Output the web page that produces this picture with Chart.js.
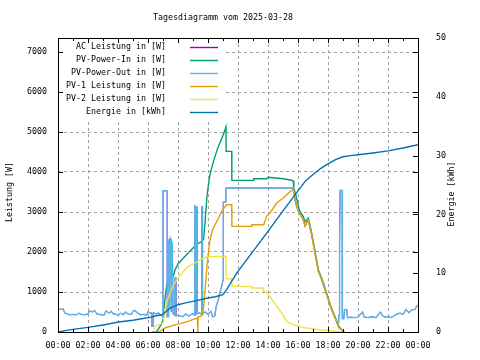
<!DOCTYPE html>
<html>
<head>
<meta charset="utf-8">
<script src="https://cdn.jsdelivr.net/npm/chart.js@4.4.1/dist/chart.umd.min.js"></script>
<style>
  html, body { margin: 0; padding: 0; background: #fff; }
  canvas { display: block; }
</style>
</head>
<body>
<canvas id="chart" width="480" height="360"></canvas>
<script>
/* ── gnuplot-ish defaults ── */
const FONT = 'DejaVu Sans Mono';
Chart.defaults.font.family = FONT;
Chart.defaults.font.size = 8.3;
Chart.defaults.color = '#000';

const TITLE = 'Tagesdiagramm vom 2025-03-28';
const Y_TITLE = 'Leistung [W]';
const Y2_TITLE = 'Energie [kWh]';

const hourTicks = ['00:00','02:00','04:00','06:00','08:00','10:00','12:00',
                   '14:00','16:00','18:00','20:00','22:00','00:00'];
const powerTicks = [0, 1000, 2000, 3000, 4000, 5000, 6000, 7000];
const energyTicks = [0, 10, 20, 30, 40, 50];

const seriesNames = ['AC Leistung in [W]', 'PV-Power-In in [W]', 'PV-Power-Out in [W]',
                     'PV-1 Leistung in [W]', 'PV-2 Leistung in [W]', 'Energie in [kWh]'];
const seriesColors = ['#9400d3', '#009e73', '#56b4e9', '#e69f00', '#f0e442', '#0072b2'];

/* [hour, W] */
const pvOut = [
  [0,600],[0.2,560],[0.35,580],[0.45,470],[0.6,460],[0.75,430],[1.0,440],[1.2,430],
  [1.4,470],[1.55,440],[1.8,430],[2.0,450],[2.1,530],[2.3,500],[2.45,540],[2.6,450],
  [2.9,430],[3.1,430],[3.2,530],[3.4,470],[3.55,520],[3.7,450],[4.0,430],[4.2,470],
  [4.35,430],[4.5,500],[4.7,440],[4.9,440],[5.0,520],[5.1,540],[5.3,480],[5.5,430],
  [5.7,440],[5.9,420],[6.0,510],[6.15,470],[6.24,480],[6.25,140],[6.35,140],[6.36,480],
  [6.55,450],[6.7,480],[6.9,400],[7.0,400],[7.0,3530],[7.29,3530],[7.29,380],[7.36,380],
  [7.37,2300],[7.42,2300],[7.43,600],[7.48,2350],[7.55,2300],[7.56,500],[7.62,2250],
  [7.66,2250],[7.67,450],[7.78,420],[7.79,1350],[7.85,1350],[7.86,400],[8.0,420],
  [8.3,380],[8.5,450],[8.7,400],[9.0,460],[9.1,420],[9.12,3150],[9.16,3150],[9.17,420],
  [9.22,3120],[9.27,3120],[9.28,450],[9.45,480],[9.58,430],[9.6,3150],[9.63,3150],
  [9.64,450],[9.8,500],[10.0,440],[10.2,520],[10.3,380],[10.45,400],[10.55,650],
  [10.69,810],[10.8,1000],[10.91,1140],[11.0,1300],[11.02,3250],[11.18,3250],[11.19,3600],
  [15.69,3600],[15.8,3310],[15.9,3150],[16.09,2975],[16.36,2800],[16.47,2650],[16.69,2800],
  [16.91,2430],[17.13,1975],[17.36,1515],[17.58,1310],[17.8,1060],[18.02,810],[18.24,560],
  [18.47,350],[18.69,140],[18.74,430],[18.75,1980],[18.79,1980],[18.8,3540],[18.95,3540],
  [18.96,330],[19.05,330],[19.1,560],[19.25,560],[19.3,360],[19.5,370],[19.8,360],
  [20.0,370],[20.3,500],[20.4,380],[20.6,360],[20.8,370],[21.0,380],[21.2,360],[21.5,500],
  [21.6,420],[21.75,380],[22.0,380],[22.2,360],[22.4,400],[22.6,450],[22.8,470],[23.0,440],
  [23.2,560],[23.4,480],[23.6,560],[23.8,560],[23.9,640],[24.0,680]
];

const pvIn = [
  [6.55,0],[6.7,80],[6.9,200],[7.0,300],[7.1,700],[7.2,1050],[7.3,1250],[7.5,1350],
  [7.69,1400],[7.8,1550],[8.0,1700],[8.36,1850],[8.7,1980],[9.0,2100],[9.13,2150],
  [9.3,2200],[9.58,2265],[9.7,2320],[9.8,2725],[9.91,3300],[10.0,3600],[10.13,3930],
  [10.36,4265],[10.69,4640],[11.02,4930],[11.2,5125],[11.21,4515],[11.58,4515],
  [11.59,3790],[13.0,3790],[13.05,3830],[13.9,3830],[14.0,3870],[14.5,3850],[15.0,3830],
  [15.5,3800],[15.68,3780],[15.72,3600],[15.8,3500],[15.9,3350],[16.09,3050],[16.36,2880],
  [16.47,2750],[16.69,2850],[16.91,2480],[17.13,2020],[17.36,1550],[17.58,1350],
  [17.8,1100],[18.02,840],[18.24,590],[18.47,380],[18.69,160],[18.91,50],[19.0,0]
];

const pv1 = [
  [6.24,0],[6.8,15],[7.13,100],[7.8,180],[8.47,240],[9.13,330],[9.3,350],[9.31,0],
  [9.33,0],[9.34,380],[9.58,400],[9.69,560],[9.8,1000],[9.91,1560],[10.0,1900],
  [10.13,2300],[10.3,2550],[10.47,2680],[10.7,2850],[10.91,3015],[11.1,3120],[11.24,3180],
  [11.58,3180],[11.59,2640],[12.9,2640],[12.91,2680],[13.7,2680],[13.8,2770],[13.9,2890],
  [14.13,2975],[14.58,3225],[15.02,3350],[15.36,3475],[15.58,3540],[15.69,3580],
  [15.8,3310],[16.02,3015],[16.2,2900],[16.36,2800],[16.47,2650],[16.6,2760],[16.69,2800],
  [16.8,2600],[16.91,2430],[17.13,1975],[17.36,1515],[17.58,1310],[17.8,1060],[18.02,810],
  [18.24,560],[18.47,350],[18.69,140],[18.91,40],[19.13,0]
];

const pv2 = [
  [6.4,50],[6.47,140],[7.02,230],[7.13,560],[7.3,800],[7.47,975],[7.69,1180],[8.02,1350],
  [8.36,1515],[8.69,1640],[9.13,1725],[9.47,1810],[9.91,1875],[10.5,1890],[11.2,1890],
  [11.21,1330],[11.58,1330],[11.59,1140],[12.9,1140],[12.91,1100],[13.69,1100],[13.7,1015],
  [13.9,1000],[14.13,890],[14.58,640],[14.91,475],[15.24,265],[15.69,180],[16.02,140],
  [16.58,100],[17.36,58],[18.0,40],[18.5,15],[18.8,0]
];

/* [hour, kWh] */
const energy = [
  [0,0],[0.58,0.27],[1.0,0.45],[2.0,0.78],[3.0,1.2],[3.36,1.36],[4.02,1.7],[5.0,2.0],
  [5.47,2.2],[6.13,2.48],[6.69,2.85],[7.0,3.0],[7.25,3.6],[7.5,4.08],[8.0,4.64],[8.5,4.95],
  [9.0,5.2],[10.0,5.78],[10.5,6.0],[11.0,6.34],[11.25,7.2],[11.5,8.33],[12.0,10.3],
  [13.0,13.7],[14.0,17.1],[15.0,20.6],[16.0,24.0],[16.5,25.7],[17.0,26.8],[17.5,27.8],
  [18.0,28.6],[18.5,29.3],[19.0,29.8],[19.5,30.0],[20.0,30.15],[21.0,30.45],[22.0,30.8],
  [23.0,31.3],[24.0,31.85]
];

function pts(list) {
  return list.map(p => ({ x: p[0], y: p[1] }));
}

function lineDataset(i, data, axis, width) {
  return {
    label: seriesNames[i],
    data: pts(data),
    yAxisID: axis,
    borderColor: seriesColors[i],
    borderWidth: width || 1.4,
    pointRadius: 0,
    tension: 0,
    fill: false,
    order: 6 - i,
  };
}

const gridOpts = { color: '#a0a0a0', lineWidth: 1, drawTicks: false };

/* title, key, border and inward ticks, drawn gnuplot style */
const gnuplotFrame = {
  id: 'gnuplotFrame',
  afterDatasetsDraw(chart) {
    const { ctx, chartArea: a, scales } = chart;
    ctx.save();

    // opaque key box
    ctx.fillStyle = '#fff';
    ctx.fillRect(a.left, a.top, 167, 81);
    ctx.font = '8.3px ' + FONT;
    ctx.textAlign = 'right';
    ctx.textBaseline = 'middle';
    seriesNames.forEach((name, i) => {
      const yy = 47.3 + i * 13;
      ctx.fillStyle = '#000';
      ctx.fillText(name, 166, yy);
      ctx.strokeStyle = seriesColors[i];
      ctx.lineWidth = 1.4;
      ctx.beginPath();
      ctx.moveTo(190, Math.round(yy) + 0.5);
      ctx.lineTo(218, Math.round(yy) + 0.5);
      ctx.stroke();
    });

    // border
    ctx.strokeStyle = '#000';
    ctx.lineWidth = 1;
    ctx.strokeRect(a.left + 0.5, a.top + 0.5, a.right - a.left, a.bottom - a.top);

    // inward ticks
    ctx.beginPath();
    for (let h = 0; h <= 24; h++) {
      const px = Math.round(scales.x.getPixelForValue(h)) + 0.5;
      const len = h % 2 === 0 ? 5 : 3;
      ctx.moveTo(px, a.bottom); ctx.lineTo(px, a.bottom - len);
      ctx.moveTo(px, a.top); ctx.lineTo(px, a.top + len);
    }
    powerTicks.forEach(v => {
      const py = Math.round(scales.y.getPixelForValue(v)) + 0.5;
      ctx.moveTo(a.left, py); ctx.lineTo(a.left + 5, py);
      ctx.moveTo(a.right, py); ctx.lineTo(a.right - 5, py);
    });
    energyTicks.forEach(v => {
      const py = Math.round(scales.y2.getPixelForValue(v)) + 0.5;
      ctx.moveTo(a.right, py); ctx.lineTo(a.right - 5, py);
    });
    ctx.stroke();
    ctx.restore();
  },
  afterDraw(chart) {
    const { ctx } = chart;
    ctx.save();
    ctx.fillStyle = '#000';
    ctx.font = '8.3px ' + FONT;
    ctx.textAlign = 'center';
    ctx.textBaseline = 'middle';
    ctx.fillText(TITLE, 223, 18);

    ctx.translate(10, 192);
    ctx.rotate(-Math.PI / 2);
    ctx.fillText(Y_TITLE, 0, 0);
    ctx.restore();

    ctx.save();
    ctx.fillStyle = '#000';
    ctx.font = '8.3px ' + FONT;
    ctx.textAlign = 'center';
    ctx.textBaseline = 'middle';
    ctx.translate(452, 194);
    ctx.rotate(-Math.PI / 2);
    ctx.fillText(Y2_TITLE, 0, 0);
    ctx.restore();
  }
};

new Chart(document.getElementById('chart'), {
  type: 'line',
  data: {
    datasets: [
      lineDataset(0, pvOut, 'y', 0.8),
      lineDataset(1, pvIn, 'y'),
      lineDataset(2, pvOut, 'y'),
      lineDataset(3, pv1, 'y'),
      lineDataset(4, pv2, 'y'),
      lineDataset(5, energy, 'y2'),
    ]
  },
  options: {
    responsive: false,
    animation: false,
    layout: { padding: { top: 38, left: 0, right: 0, bottom: 0 } },
    plugins: {
      legend: { display: false },
      tooltip: { enabled: false },
      title: { display: false },
    },
    scales: {
      x: {
        type: 'linear',
        min: 0, max: 24,
        afterBuildTicks: s => { s.ticks = hourTicks.map((_, i) => ({ value: i * 2 })); },
        ticks: { autoSkip: false, maxRotation: 0, padding: 9,
                 callback: (v, i) => hourTicks[i] },
        grid: gridOpts,
        border: { display: false, dash: [3, 3] },
        afterFit: s => { s.height = 28; },
      },
      y: {
        position: 'left',
        min: 0, max: 7350,
        afterBuildTicks: s => { s.ticks = powerTicks.map(v => ({ value: v })); },
        ticks: { padding: 11, callback: v => String(v) },
        grid: gridOpts,
        border: { display: false, dash: [3, 3] },
        afterFit: s => { s.width = 58; },
      },
      y2: {
        position: 'right',
        min: 0, max: 50,
        afterBuildTicks: s => { s.ticks = energyTicks.map(v => ({ value: v })); },
        ticks: { padding: 10, callback: v => String(v) },
        grid: { display: false },
        border: { display: false },
        afterFit: s => { s.width = 62; },
      }
    }
  },
  plugins: [gnuplotFrame]
});
</script>
</body>
</html>
